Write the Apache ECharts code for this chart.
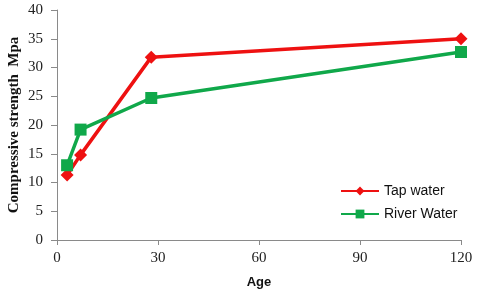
<!DOCTYPE html>
<html><head><meta charset="utf-8">
<script src="https://cdn.jsdelivr.net/npm/echarts@6/dist/echarts.min.js"></script>
<style>html,body{margin:0;padding:0;background:#fff}#c{width:480px;height:293px}</style>
</head><body><div id="c"></div>
<script>
const ages = [3, 7, 28, 120];
const tapWater = [11.3, 14.8, 31.8, 35.0];
const riverWater = [13.0, 19.2, 24.7, 32.7];
const seriesNames = ['Tap water', 'River Water'];
const yAxisTitle = 'Compressive strength  Mpa';
const xAxisTitle = 'Age';

const chart = echarts.init(document.getElementById('c'));
const pair = (xs, ys) => xs.map((x, i) => [x, ys[i]]);
chart.setOption({
  animation: false,
  grid: {left: 57, right: 19, top: 10, bottom: 53, outerBoundsMode: 'none', containLabel: false},
  legend: {
    left: 335, top: 179, orient: 'vertical', itemGap: 9,
    itemWidth: 38, itemHeight: 11,
    textStyle: {fontFamily: 'Liberation Sans', fontSize: 14, color: '#111'},
    data: seriesNames
  },
  xAxis: {
    type: 'value', min: 0, max: 120, interval: 30,
    name: xAxisTitle, nameLocation: 'middle', nameGap: 36, nameMoveOverlap: false,
    nameTextStyle: {fontFamily: 'Liberation Sans', fontWeight: 'bold', fontSize: 13, color: '#111'},
    axisLine: {lineStyle: {color: '#8a8a8a', width: 1}},
    axisTick: {show: true, length: 5, lineStyle: {color: '#8a8a8a'}},
    axisLabel: {fontFamily: 'Liberation Serif', fontSize: 15, color: '#222', margin: 11},
    splitLine: {show: false}
  },
  yAxis: {
    type: 'value', min: 0, max: 40, interval: 5,
    name: yAxisTitle, nameLocation: 'middle', nameGap: 35, nameMoveOverlap: false,
    nameTextStyle: {fontFamily: 'Liberation Serif', fontWeight: 'bold', fontSize: 15, color: '#111'},
    axisLine: {show: true, lineStyle: {color: '#8a8a8a', width: 1}},
    axisTick: {show: true, length: 6, lineStyle: {color: '#8a8a8a'}},
    axisLabel: {fontFamily: 'Liberation Serif', fontSize: 15, color: '#222', margin: 14},
    splitLine: {show: false}
  },
  series: [
    {
      name: seriesNames[0], type: 'line', data: pair(ages, tapWater),
      symbol: 'diamond', symbolSize: 13,
      lineStyle: {color: '#ee1111', width: 3.5},
      itemStyle: {color: '#ee1111'}
    },
    {
      name: seriesNames[1], type: 'line', data: pair(ages, riverWater),
      symbol: 'rect', symbolSize: 12,
      lineStyle: {color: '#10a84a', width: 3.5},
      itemStyle: {color: '#10a84a'}
    }
  ]
});
</script></body></html>
